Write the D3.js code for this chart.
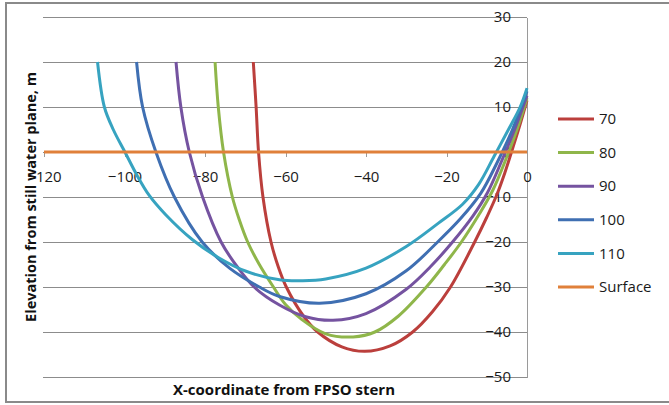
<!DOCTYPE html>
<html lang="en">
<head>
<meta charset="utf-8">
<style>
  body { margin: 0; background: #fff; }
  svg { display: block; font-family: "Open Sans", sans-serif; }
  .grid line { stroke: #8c8c8c; stroke-width: 1; shape-rendering: crispEdges; }
  .axis text { font-size: 15px; fill: #1a1a1a; font-family: "Open Sans", sans-serif; }
  .axis path, .axis line { stroke: #9a9a9a; shape-rendering: crispEdges; }
  .title { font-size: 14.5px; font-weight: bold; fill: #111; }
  .legend text { font-size: 15px; fill: #1a1a1a; }
</style>
</head>
<body>
<svg width="669" height="405"></svg>
<script src="https://cdn.jsdelivr.net/npm/d3@7"></script>
<script>
// series names and colours
var names = ["70", "80", "90", "100", "110", "Surface"];
var colors = ["#bb3f3c", "#8fb64a", "#7553a0", "#3f6fb2", "#37a3c0", "#e0803a"];

// X-coordinate from FPSO stern
var x70  = [-68.0, -67.3, -66.7, -65.6, -63.6, -61.8, -59.8, -55.5, -52.0, -46.0, -40.3, -34.0, -28.4, -23.5, -19.0, -13.0, -10.0, -7.5, -5.5, -3.5, -1.6, 0];
var x80  = [-77.5, -76.7, -75.4, -73.2, -71.5, -69.4, -66.5, -63.0, -60.0, -56.0, -50.0, -43.2, -37.8, -32.0, -25.0, -20.5, -16.3, -12.0, -8.5, -5.2, -2.4, 0];
var x90  = [-87.2, -86.0, -83.9, -80.6, -76.0, -72.0, -67.8, -61.5, -55.0, -48.2, -40.0, -30.0, -24.0, -18.5, -13.5, -9.8, -6.3, -3.0, 0];
var x100 = [-97.0, -95.5, -92.2, -87.6, -80.7, -73.9, -66.5, -61.5, -51.5, -40.0, -30.0, -22.2, -16.5, -11.5, -7.5, -3.6, 0];
var x110 = [-106.7, -105.0, -102.8, -99.9, -97.0, -93.9, -89.7, -83.1, -76.4, -69.8, -61.5, -55.7, -50.0, -40.0, -30.0, -22.0, -16.0, -12.0, -8.2, -4.6, -1.7, 0];
var xSurface = [-120, 0];

// elevation from still water plane
var y70  = [20, 10, 0, -10, -20, -25.5, -30, -36.5, -40, -43.3, -44.3, -43.1, -40, -35.5, -30, -20, -14.5, -9.5, -4.6, 1, 6.5, 11.5];
var y80  = [20, 10, 0, -10, -15, -20, -25, -30, -33.9, -37.2, -40.4, -41.1, -40, -36.5, -30, -25, -20, -14, -8.5, -1.5, 5.2, 12];
var y90  = [20, 10, 0, -10, -20, -25.5, -30, -34.0, -36.6, -37.4, -35.9, -30.5, -25.5, -20, -14.3, -9, -2, 5.2, 12.5];
var y100 = [20, 10, 0, -10, -20, -25.8, -30, -32.1, -33.6, -31.5, -26.4, -20, -14.8, -9.2, -2.5, 5, 13.5];
var y110 = [20, 10, 5, 0, -5, -9.6, -14.0, -19.5, -23.6, -26.5, -28.4, -28.6, -28.2, -25.8, -21.0, -15.8, -11.6, -7.2, -1, 5, 10, 14.2];
var ySurface = [0, 0];

var xTicks = [-120, -100, -80, -60, -40, -20, 0];
var yTicks = [30, 20, 10, 0, -10, -20, -30, -40, -50];

var xs = [x70, x80, x90, x100, x110, xSurface];
var ys = [y70, y80, y90, y100, y110, ySurface];

var svg = d3.select("svg");

var x = d3.scaleLinear().domain([-120, 0]).range([44, 527]);
var y = d3.scaleLinear().domain([-50, 30]).range([377, 17]);

// chart border
svg.append("rect")
    .attr("x", 6).attr("y", 3)
    .attr("width", 680).attr("height", 399)
    .attr("fill", "none")
    .attr("stroke", "#8a8a8a")
    .attr("stroke-width", 2);

// horizontal gridlines
svg.append("g").attr("class", "grid")
    .selectAll("line")
    .data(yTicks)
    .enter().append("line")
    .attr("x1", 43).attr("x2", 527)
    .attr("y1", function (d) { return Math.round(y(d)) + 0.5; })
    .attr("y2", function (d) { return Math.round(y(d)) + 0.5; });

// y axis sits at x = 0
svg.append("g").attr("class", "axis")
    .attr("transform", "translate(527,0)")
    .call(d3.axisLeft(y).tickValues(yTicks).tickSize(0).tickPadding(16));

// x axis sits at y = 0
var xAxis = svg.append("g").attr("class", "axis")
    .attr("transform", "translate(0," + y(0) + ")")
    .call(d3.axisBottom(x).tickValues(xTicks).tickSize(5).tickPadding(14));
xAxis.select(".domain").remove();

var line = d3.line()
    .x(function (d) { return x(d[0]); })
    .y(function (d) { return y(d[1]); })
    .curve(d3.curveCatmullRom.alpha(0.5));

names.forEach(function (name, i) {
    var pts = xs[i].map(function (v, j) { return [v, ys[i][j]]; });
    svg.append("path")
        .datum(pts)
        .attr("fill", "none")
        .attr("stroke", colors[i])
        .attr("stroke-width", 3)
        .attr("stroke-linejoin", "round")
        .attr("d", line);
});

// axis titles
svg.append("text")
    .attr("class", "title")
    .attr("x", 284).attr("y", 395)
    .attr("text-anchor", "middle")
    .style("font-size", "15px")
    .text("X-coordinate from FPSO stern");

svg.append("text")
    .attr("class", "title")
    .attr("transform", "translate(36,197) rotate(-90)")
    .attr("text-anchor", "middle")
    .text("Elevation from still water plane, m");

// legend
var legend = svg.append("g").attr("class", "legend")
    .selectAll("g")
    .data(names)
    .enter().append("g")
    .attr("transform", function (d, i) { return "translate(0," + (119 + i * 33.6) + ")"; });

legend.append("line")
    .attr("x1", 558).attr("x2", 594)
    .attr("stroke", function (d, i) { return colors[i]; })
    .attr("stroke-width", 3);

legend.append("text")
    .attr("x", 599).attr("dy", "0.35em")
    .text(function (d) { return d; });
</script>
</body>
</html>
